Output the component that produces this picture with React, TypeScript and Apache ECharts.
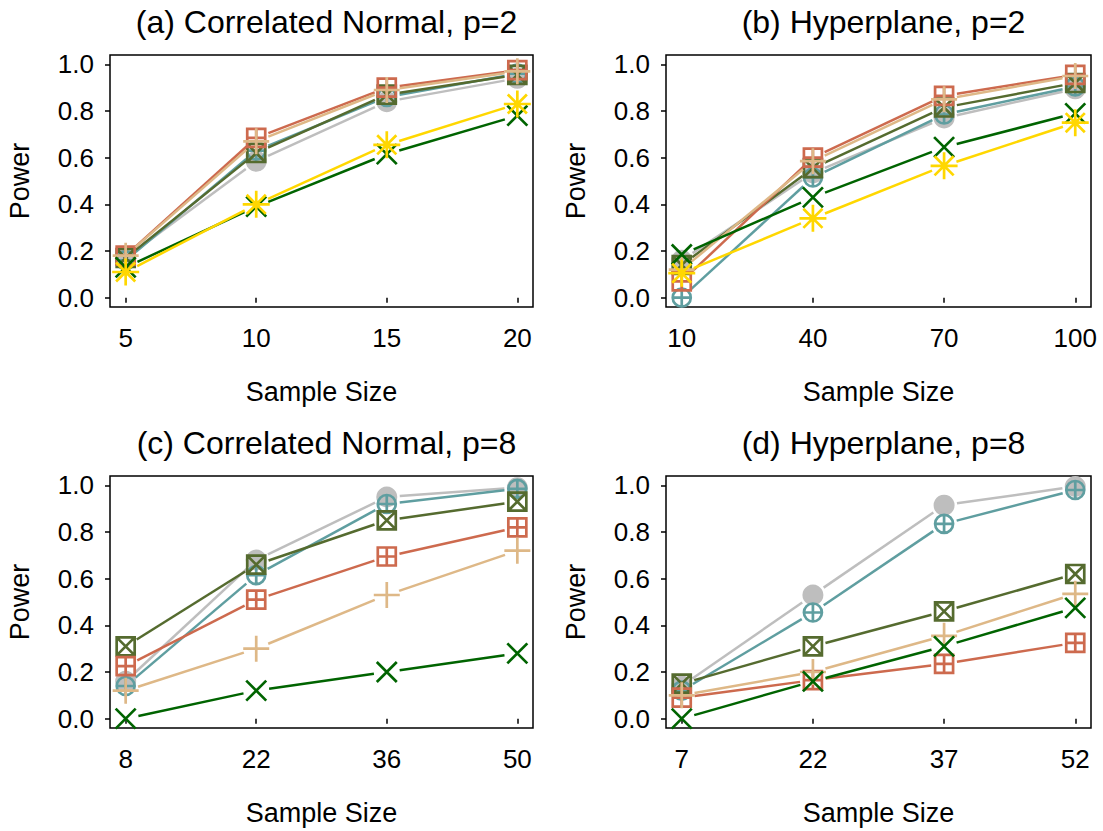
import React, { useEffect, useRef } from "react";
import * as echarts from "echarts";

// ---- data ----
const panelTitles = [
  "(a) Correlated Normal, p=2",
  "(b) Hyperplane, p=2",
  "(c) Correlated Normal, p=8",
  "(d) Hyperplane, p=8",
];
const sampleSizesA = [5, 10, 15, 20];
const sampleSizesB = [10, 40, 70, 100];
const sampleSizesC = [8, 22, 36, 50];
const sampleSizesD = [7, 22, 37, 52];
const yTicks = [0, 0.2, 0.4, 0.6, 0.8, 1.0];

const seriesNames = ["gray", "teal", "olive", "red", "tan", "green", "gold"];

const powerA_gray = [0.17, 0.585, 0.84, 0.94];
const powerA_teal = [0.16, 0.63, 0.86, 0.96];
const powerA_olive = [0.17, 0.62, 0.87, 0.955];
const powerA_red = [0.18, 0.685, 0.9, 0.975];
const powerA_tan = [0.18, 0.67, 0.89, 0.97];
const powerA_green = [0.13, 0.39, 0.615, 0.78];
const powerA_gold = [0.11, 0.4, 0.655, 0.83];

const powerB_gray = [0.16, 0.535, 0.77, 0.895];
const powerB_teal = [0.0, 0.515, 0.785, 0.905];
const powerB_olive = [0.14, 0.555, 0.815, 0.92];
const powerB_red = [0.07, 0.6, 0.865, 0.955];
const powerB_tan = [0.12, 0.585, 0.85, 0.95];
const powerB_green = [0.185, 0.43, 0.645, 0.79];
const powerB_gold = [0.105, 0.34, 0.565, 0.75];

const powerC_gray = [0.16, 0.68, 0.95, 0.99];
const powerC_teal = [0.14, 0.615, 0.92, 0.985];
const powerC_olive = [0.31, 0.66, 0.85, 0.93];
const powerC_red = [0.225, 0.51, 0.695, 0.82];
const powerC_tan = [0.12, 0.3, 0.53, 0.72];
const powerC_green = [0.0, 0.12, 0.2, 0.28];

const powerD_gray = [0.14, 0.53, 0.915, 0.995];
const powerD_teal = [0.12, 0.455, 0.835, 0.98];
const powerD_olive = [0.15, 0.31, 0.46, 0.62];
const powerD_red = [0.09, 0.165, 0.235, 0.325];
const powerD_tan = [0.1, 0.2, 0.355, 0.535];
const powerD_green = [0.0, 0.16, 0.31, 0.475];

// ---- styles ----
const FONT = "Liberation Sans, Arial, Helvetica, sans-serif";
const GAP = 13;
const styleMap: Record<string, { color: string; symbol: string; size: number; filled?: boolean }> = {
  gray: { color: "#BEBEBE", symbol: "circle", size: 21, filled: true },
  teal: { color: "#5F9EA0", symbol: "path://M0,5A5,5 0 1,1 10,5A5,5 0 1,1 0,5Z M5,0L5,10M0,5L10,5", size: 18 },
  olive: { color: "#556B2F", symbol: "path://M0,0L10,0L10,10L0,10Z M0,0L10,10M10,0L0,10", size: 18 },
  red: { color: "#CD6A4E", symbol: "path://M0,0L10,0L10,10L0,10Z M5,0L5,10M0,5L10,5", size: 18 },
  tan: { color: "#DEB887", symbol: "path://M5,0L5,10M0,5L10,5", size: 26 },
  green: { color: "#006400", symbol: "path://M0,0L10,10M10,0L0,10", size: 20 },
  gold: { color: "#FFD700", symbol: "path://M5,0L5,10M0,5L10,5M1.46,1.46L8.54,8.54M8.54,1.46L1.46,8.54", size: 27 },
};

const panels = [
  {
    xs: sampleSizesA,
    grid: { left: 110, top: 55, width: 423, height: 252 },
    series: { gray: powerA_gray, teal: powerA_teal, olive: powerA_olive, red: powerA_red, tan: powerA_tan, green: powerA_green, gold: powerA_gold } as Record<string, number[]>,
  },
  {
    xs: sampleSizesB,
    grid: { left: 666, top: 55, width: 425, height: 252 },
    series: { gray: powerB_gray, teal: powerB_teal, olive: powerB_olive, red: powerB_red, tan: powerB_tan, green: powerB_green, gold: powerB_gold } as Record<string, number[]>,
  },
  {
    xs: sampleSizesC,
    grid: { left: 110, top: 476, width: 423, height: 252 },
    series: { gray: powerC_gray, teal: powerC_teal, olive: powerC_olive, red: powerC_red, tan: powerC_tan, green: powerC_green } as Record<string, number[]>,
  },
  {
    xs: sampleSizesD,
    grid: { left: 666, top: 476, width: 425, height: 252 },
    series: { gray: powerD_gray, teal: powerD_teal, olive: powerD_olive, red: powerD_red, tan: powerD_tan, green: powerD_green } as Record<string, number[]>,
  },
];

function buildOption() {
  const grids: any[] = [];
  const xAxes: any[] = [];
  const yAxes: any[] = [];
  const titles: any[] = [];
  const series: any[] = [];

  panels.forEach((p, i) => {
    grids.push({
      ...p.grid,
      show: true,
      borderColor: "#000",
      borderWidth: 1.5,
      backgroundColor: "transparent",
      containLabel: false,
    });
    const xmin = p.xs[0];
    const xmax = p.xs[p.xs.length - 1];
    const pad = (xmax - xmin) * 0.04;
    xAxes.push({
      type: "value",
      gridIndex: i,
      min: xmin - pad,
      max: xmax + pad,
      axisLine: { show: false },
      splitLine: { show: false },
      axisTick: { show: true, customValues: p.xs, length: 5, lineStyle: { color: "#000", width: 1.5 } },
      axisLabel: { show: true, customValues: p.xs, fontSize: 26, color: "#000", fontFamily: FONT, margin: 18 },
      name: "Sample Size",
      nameLocation: "middle",
      nameGap: 71,
      nameTextStyle: { fontSize: 27, color: "#000", fontFamily: FONT },
    });
    yAxes.push({
      type: "value",
      gridIndex: i,
      min: -0.04,
      max: 1.04,
      axisLine: { show: false },
      splitLine: { show: false },
      axisTick: { show: true, customValues: yTicks, length: 5, lineStyle: { color: "#000", width: 1.5 } },
      axisLabel: {
        show: true,
        customValues: yTicks,
        fontSize: 26,
        color: "#000",
        fontFamily: FONT,
        margin: 16,
        formatter: (v: number) => v.toFixed(1),
      },
      name: "Power",
      nameLocation: "middle",
      nameGap: 77,
      nameTextStyle: { fontSize: 27, color: "#000", fontFamily: FONT },
    });
    titles.push({
      text: panelTitles[i],
      left: p.grid.left + p.grid.width / 2,
      top: p.grid.top - 54,
      textAlign: "center",
      textStyle: { fontSize: 32, fontWeight: "normal", color: "#000", fontFamily: FONT },
    });

    let k = 0;
    seriesNames.forEach((name) => {
      const ys = p.series[name];
      if (!ys) return;
      const st = styleMap[name];
      const segs: number[][] = [];
      for (let j = 0; j < p.xs.length - 1; j++) {
        segs.push([p.xs[j], ys[j], p.xs[j + 1], ys[j + 1]]);
      }
      series.push({
        type: "custom",
        name: name + "-line",
        xAxisIndex: i,
        yAxisIndex: i,
        z: 2 + k * 2,
        data: segs,
        encode: { x: [0, 2], y: [1, 3] },
        clip: false,
        renderItem: (params: any, api: any) => {
          const p1 = api.coord([api.value(0), api.value(1)]);
          const p2 = api.coord([api.value(2), api.value(3)]);
          const dx = p2[0] - p1[0];
          const dy = p2[1] - p1[1];
          const L = Math.hypot(dx, dy);
          if (L <= 2 * GAP) return null;
          const ux = dx / L;
          const uy = dy / L;
          return {
            type: "line",
            shape: {
              x1: p1[0] + ux * GAP,
              y1: p1[1] + uy * GAP,
              x2: p2[0] - ux * GAP,
              y2: p2[1] - uy * GAP,
            },
            style: { stroke: st.color, lineWidth: 2.5 },
          };
        },
      });
      series.push({
        type: "scatter",
        name: name,
        xAxisIndex: i,
        yAxisIndex: i,
        z: 3 + k * 2,
        symbol: st.symbol,
        symbolSize: st.size,
        data: p.xs.map((x, j) => [x, ys[j]]),
        itemStyle: st.filled
          ? { color: st.color, borderWidth: 0, opacity: 1 }
          : { color: "transparent", borderColor: st.color, borderWidth: 2.7, opacity: 1 },
        emphasis: { disabled: true },
      });
      k++;
    });
  });

  return {
    animation: false,
    backgroundColor: "#fff",
    title: titles,
    grid: grids,
    xAxis: xAxes,
    yAxis: yAxes,
    series,
  };
}

export default function App() {
  const ref = useRef<HTMLDivElement>(null);
  useEffect(() => {
    if (!ref.current) return;
    const chart = echarts.init(ref.current, undefined, { renderer: "svg" });
    chart.setOption(buildOption() as any);
    return () => chart.dispose();
  }, []);
  return (
    <div
      ref={ref}
      style={{ position: "absolute", left: 0, top: 0, width: 1103, height: 831, background: "#fff" }}
    />
  );
}
